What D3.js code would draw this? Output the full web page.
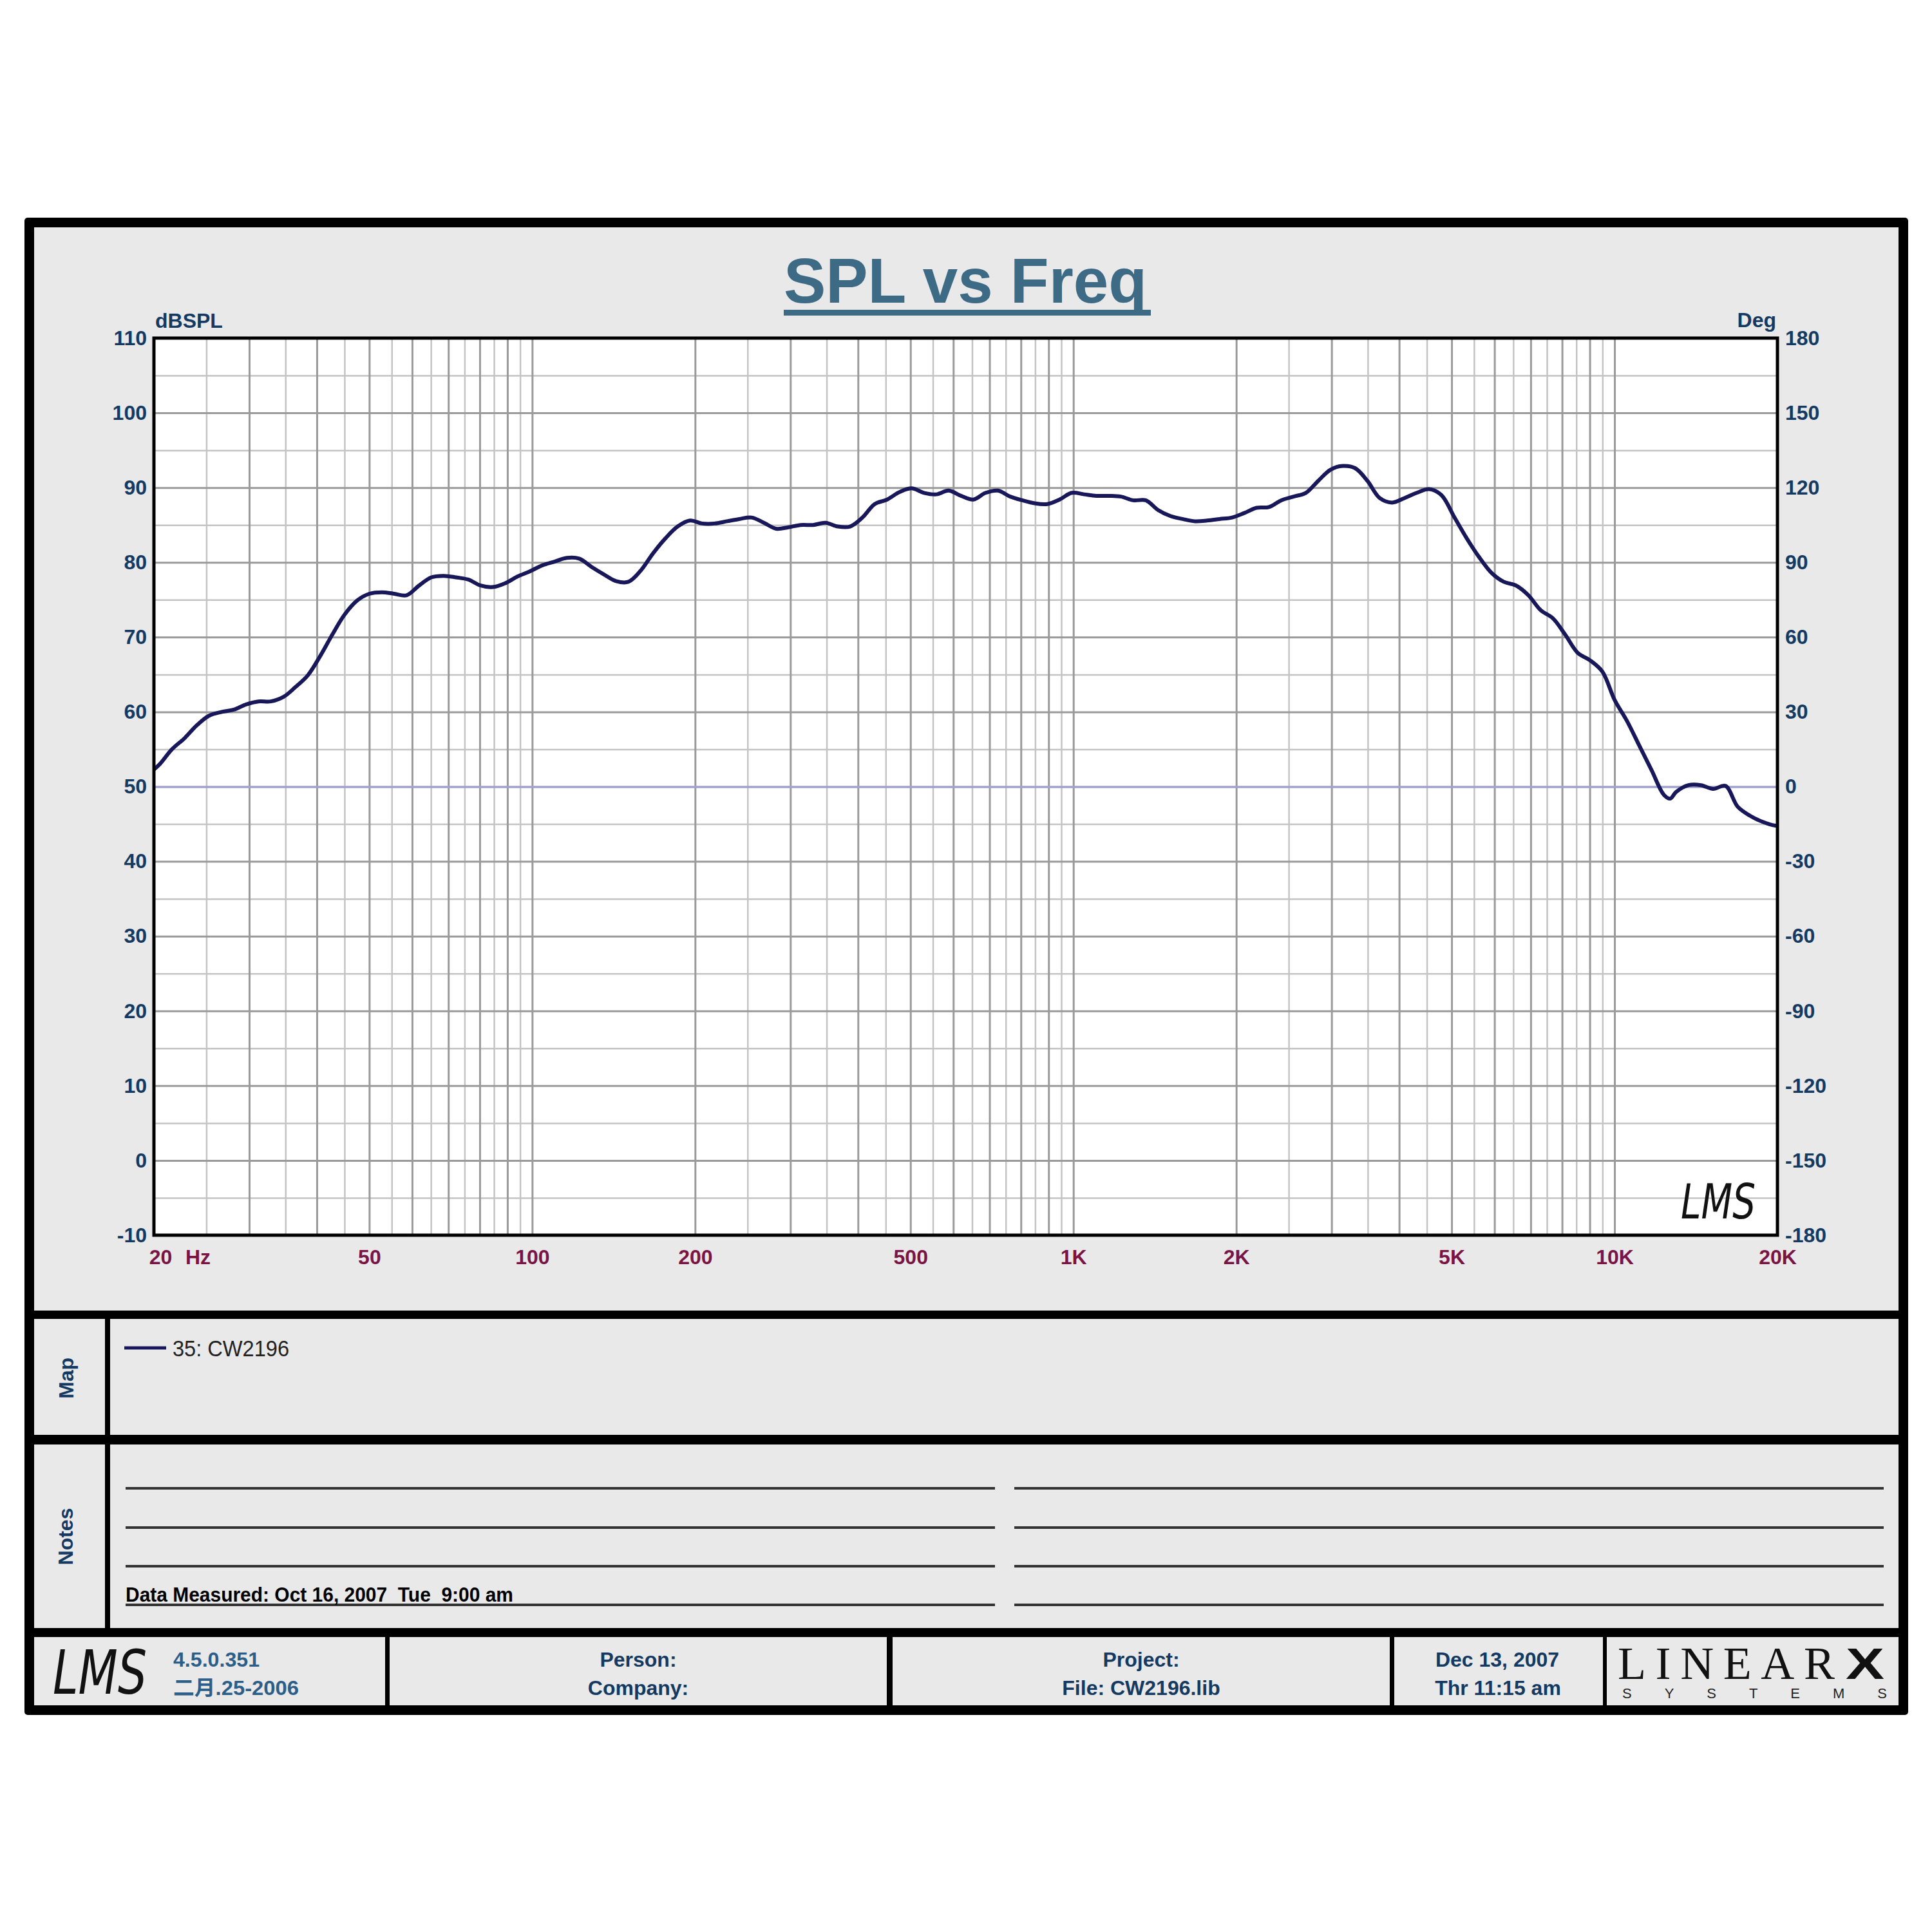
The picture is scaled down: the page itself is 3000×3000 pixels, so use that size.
<!DOCTYPE html>
<html><head><meta charset="utf-8">
<script src="https://cdn.jsdelivr.net/npm/d3@7"></script>
<style>
html,body{margin:0;padding:0;background:#fff;}
svg{display:block;}
</style></head>
<body>
<svg id="c" width="3000" height="3000"></svg>
<script>
// ---------------- DATA ----------------
const freqHz = [20,20.5,21.6,22.8,24.0,25.3,26.7,28.1,29.6,31.2,32.9,34.7,36.5,38.5,40.6,42.7,45.0,47.5,50.0,52.8,55.6,58.6,61.8,65.1,68.6,72.3,76.2,80.3,84.6,89.1,93.9,99.0,104.4,110,115.9,122.1,128.7,135.6,142.9,150.6,158.7,167.2,176.2,185.7,195.7,206.2,217.3,229,241.3,254.3,268,282.4,297.6,313.6,330.5,348.3,367,386.8,407.6,429.5,452.6,477,502.6,529.7,558.2,588.2,619.9,653.2,688.4,725.4,764.4,805.6,848.9,894.6,942.7,993.4,1047,1103,1163,1225,1291,1361,1434,1511,1592,1678,1768,1863,1964,2069,2181,2298,2422,2552,2689,2834,2987,3147,3317,3495,3683,3881,4090,4310,4542,4787,5062,5334,5621,5924,6242,6578,6932,7305,7698,8112,8549,9009,9493,10004,10542,11109,11707,12337,12669,13001,13700,14437,15214,16033,16895,17804,18762,19771,20000];
const splDb = [52.3,53.0,55.0,56.5,58.2,59.5,60.0,60.3,61.0,61.4,61.4,62.0,63.3,64.9,67.5,70.3,73.0,74.9,75.8,76.0,75.8,75.6,76.9,78.0,78.2,78.0,77.7,76.9,76.7,77.2,78.1,78.8,79.6,80.1,80.6,80.5,79.4,78.4,77.5,77.4,78.9,81.2,83.2,84.8,85.6,85.2,85.2,85.5,85.8,86.0,85.3,84.5,84.7,85.0,85.0,85.3,84.8,84.8,86.0,87.8,88.4,89.4,89.9,89.3,89.1,89.6,88.9,88.4,89.3,89.6,88.8,88.3,87.9,87.8,88.4,89.3,89.1,88.9,88.9,88.8,88.3,88.3,87.0,86.2,85.8,85.5,85.6,85.8,86.0,86.6,87.3,87.4,88.3,88.8,89.3,90.9,92.4,92.9,92.6,90.9,88.6,88.0,88.6,89.3,89.8,89.0,86.0,83.2,80.7,78.6,77.4,76.9,75.6,73.6,72.5,70.3,67.9,66.9,65.4,61.6,58.8,55.5,52.2,48.9,48.4,49.3,50.2,50.2,49.7,50.1,47.3,46.1,45.3,44.8,44.8];
const yTicksLeft = [110,100,90,80,70,60,50,40,30,20,10,0,-10];
const yTicksRight = [180,150,120,90,60,30,0,-30,-60,-90,-120,-150,-180];
const xTickVals = [20,50,100,200,500,1000,2000,5000,10000,20000];
const xTickLabels = ["20","50","100","200","500","1K","2K","5K","10K","20K"];
const seriesName = "35: CW2196";

// ---------------- LAYOUT ----------------
const svg = d3.select("#c");
const PL=239, PR=2760, PT=525, PB=1918;
const panel="#e9e9e9", navy="#143a62", maroon="#7a1444", titleC="#3d6a84", curveC="#17175a";
const fontS = "'Liberation Sans', Arial, Helvetica, sans-serif";

// frame
svg.append("rect").attr("x",38).attr("y",338).attr("width",2925).attr("height",2325).attr("rx",5).attr("fill","#000");
const cells = [
  [53,353,2948,2035],
  [53,2048,163,2228],[171,2048,2948,2228],
  [53,2243,163,2528],[171,2243,2948,2528],
  [53,2542,598,2648],[605,2542,1377,2648],[1386,2542,2158,2648],[2165,2542,2489,2648],[2495,2542,2948,2648]
];
svg.selectAll("rect.cell").data(cells).enter().append("rect").attr("class","cell")
  .attr("x",d=>d[0]).attr("y",d=>d[1]).attr("width",d=>d[2]-d[0]).attr("height",d=>d[3]-d[1])
  .attr("fill",panel);

// scales
const x = d3.scaleLog().domain([20,20000]).range([PL,PR]);
const y = d3.scaleLinear().domain([-10,110]).range([PB,PT]);
const yR = d3.scaleLinear().domain([-180,180]).range([PB,PT]);

// plot background
svg.append("rect").attr("x",PL).attr("y",PT).attr("width",PR-PL).attr("height",PB-PT).attr("fill","#fff");

// grid values
const gridMajor=[], gridMinor=[];
[10,100,1000,10000].forEach(d=>{
  for(let m=2;m<=10;m++){ const v=m*d; if(v>20 && v<20000) gridMajor.push(v); }
  for(let m=2.5;m<10;m+=1){ const v=m*d; if(v>20 && v<20000) gridMinor.push(v); }
});
const hMajor = d3.range(0,110,10).filter(v=>v>-10&&v<110);
const hMinor = d3.range(-5,110,10);

function grid(vals, color, w){
  svg.append("g").attr("transform",`translate(0,${PB})`)
    .call(d3.axisBottom(x).tickValues(vals).tickSize(-(PB-PT)).tickFormat(""))
    .call(g=>{g.select(".domain").remove(); g.selectAll("line").attr("stroke",color).attr("stroke-width",w);});
}
function hgrid(vals,color,w){
  svg.append("g").attr("transform",`translate(${PL},0)`)
    .call(d3.axisLeft(y).tickValues(vals).tickSize(-(PR-PL)).tickFormat(""))
    .call(g=>{g.select(".domain").remove(); g.selectAll("line").attr("stroke",color).attr("stroke-width",w);});
}
grid(gridMinor,"#c4c4c4",2.5);
hgrid(hMinor,"#c4c4c4",2.5);
grid(gridMajor,"#9a9a9a",3);
hgrid(hMajor.filter(v=>v!==50),"#9a9a9a",3);
hgrid([50],"#a2a2d2",3.5);

// curve
svg.append("clipPath").attr("id","pc").append("rect").attr("x",PL).attr("y",PT).attr("width",PR-PL).attr("height",PB-PT);
const line = d3.line().x((d,i)=>x(freqHz[i])).y(d=>y(d)).curve(d3.curveCatmullRom.alpha(0.5));
svg.append("path").attr("d",line(splDb)).attr("fill","none").attr("stroke",curveC)
  .attr("stroke-width",6).attr("stroke-linejoin","round").attr("clip-path","url(#pc)");

// plot border
svg.append("rect").attr("x",PL).attr("y",PT).attr("width",PR-PL).attr("height",PB-PT)
  .attr("fill","none").attr("stroke","#000").attr("stroke-width",5);

// axes labels
function styleAxis(g,color){
  g.select(".domain").remove();
  g.selectAll("text").attr("fill",color).attr("font-family",fontS).attr("font-weight","bold").attr("font-size",32);
}
const plain = d=>String(d);
svg.append("g").attr("transform",`translate(${PL},0)`)
  .call(d3.axisLeft(y).tickValues(yTicksLeft).tickFormat(plain).tickSize(0).tickPadding(11))
  .call(g=>styleAxis(g,navy));
svg.append("g").attr("transform",`translate(${PR},0)`)
  .call(d3.axisRight(yR).tickValues(yTicksRight).tickFormat(plain).tickSize(0).tickPadding(12))
  .call(g=>styleAxis(g,navy));
svg.append("g").attr("transform",`translate(0,${PB})`)
  .call(d3.axisBottom(x).tickValues(xTickVals).tickFormat((d,i)=>xTickLabels[i]).tickSize(0).tickPadding(22))
  .call(g=>{styleAxis(g,maroon); g.selectAll(".tick").filter(d=>d===20).select("text").attr("dx",10);});
svg.append("text").attr("x",288).attr("y",1963).attr("fill",maroon).attr("font-family",fontS)
  .attr("font-weight","bold").attr("font-size",32).text("Hz");

svg.append("text").attr("x",241).attr("y",509).attr("fill",navy).attr("font-family",fontS)
  .attr("font-weight","bold").attr("font-size",32).text("dBSPL");
svg.append("text").attr("x",2758).attr("y",508).attr("text-anchor","end").attr("fill",navy).attr("font-family",fontS)
  .attr("font-weight","bold").attr("font-size",32).text("Deg");

// title
svg.append("text").attr("x",1499).attr("y",470).attr("text-anchor","middle").attr("fill",titleC)
  .attr("font-family",fontS).attr("font-weight","bold").attr("font-size",98)
  .attr("textLength",564).attr("lengthAdjust","spacingAndGlyphs").text("SPL vs Freq");
svg.append("rect").attr("x",1217).attr("y",481).attr("width",570).attr("height",9).attr("fill",titleC);

// LMS logo in plot
svg.append("text").attr("x",2610).attr("y",1892).attr("font-family","'DejaVu Sans', sans-serif")
  .attr("font-style","italic").attr("font-size",74).attr("fill","#111")
  .attr("textLength",116).attr("lengthAdjust","spacingAndGlyphs").text("LMS");

// Map section
svg.append("text").attr("transform","translate(114,2140) rotate(-90)").attr("text-anchor","middle")
  .attr("fill",navy).attr("font-family",fontS).attr("font-weight","bold").attr("font-size",32).text("Map");
svg.append("line").attr("x1",193).attr("x2",258).attr("y1",2093).attr("y2",2093).attr("stroke",curveC).attr("stroke-width",5);
svg.append("text").attr("x",268).attr("y",2106).attr("fill","#222").attr("font-family",fontS)
  .attr("font-size",35).attr("textLength",181).attr("lengthAdjust","spacingAndGlyphs").text(seriesName);

// Notes section
svg.append("text").attr("transform","translate(113,2386) rotate(-90)").attr("text-anchor","middle")
  .attr("fill",navy).attr("font-family",fontS).attr("font-weight","bold").attr("font-size",32).text("Notes");
[2311,2372,2432,2492].forEach(yy=>{
  [[195,1545],[1575,2925]].forEach(s=>{
    svg.append("line").attr("x1",s[0]).attr("x2",s[1]).attr("y1",yy).attr("y2",yy).attr("stroke","#333").attr("stroke-width",4);
  });
});
svg.append("text").attr("x",195).attr("y",2487).attr("fill","#000").attr("font-family",fontS)
  .attr("font-weight","bold").attr("font-size",32).attr("textLength",602).attr("lengthAdjust","spacingAndGlyphs")
  .attr("xml:space","preserve").style("white-space","pre").text("Data Measured: Oct 16, 2007  Tue  9:00 am");

// Footer
svg.append("text").attr("x",82).attr("y",2630).attr("font-family","'DejaVu Sans', sans-serif")
  .attr("font-style","italic").attr("font-size",94).attr("fill","#111")
  .attr("textLength",146).attr("lengthAdjust","spacingAndGlyphs").text("LMS");
const verC="#2d5e88";
svg.append("text").attr("x",269).attr("y",2588).attr("fill",verC).attr("font-family",fontS)
  .attr("font-weight","bold").attr("font-size",32).attr("textLength",134).attr("lengthAdjust","spacingAndGlyphs").text("4.5.0.351");
svg.append("text").attr("x",269).attr("y",2632).attr("fill",verC).attr("font-family","'Liberation Sans','Noto Sans CJK SC',sans-serif")
  .attr("font-weight","bold").attr("font-size",32).attr("textLength",195).attr("lengthAdjust","spacingAndGlyphs").text("二月.25-2006");
const foot=[[991,2588,"Person:"],[991,2632,"Company:"],[1772,2588,"Project:"],[1772,2632,"File: CW2196.lib"],[2325,2588,"Dec 13, 2007"],[2326,2632,"Thr 11:15 am"]];
foot.forEach(f=>{
  svg.append("text").attr("x",f[0]).attr("y",f[1]).attr("text-anchor","middle").attr("fill",navy)
    .attr("font-family",fontS).attr("font-weight","bold").attr("font-size",32).text(f[2]);
});
svg.append("text").attr("x",2512).attr("y",2607).attr("fill","#111").attr("font-family","'Liberation Serif','DejaVu Serif',serif")
  .attr("font-size",72).attr("textLength",337).attr("lengthAdjust","spacing").text("LINEAR");
svg.append("text").attr("x",2866).attr("y",2607).attr("fill","#111").attr("font-family",fontS).attr("font-weight","900")
  .attr("font-size",68).attr("textLength",60).attr("lengthAdjust","spacingAndGlyphs").text("X");
svg.append("text").attr("x",2519).attr("y",2637).attr("fill","#222").attr("font-family",fontS)
  .attr("font-size",22).attr("textLength",411).attr("lengthAdjust","spacing").text("SYSTEMS");
</script>
</body></html>
